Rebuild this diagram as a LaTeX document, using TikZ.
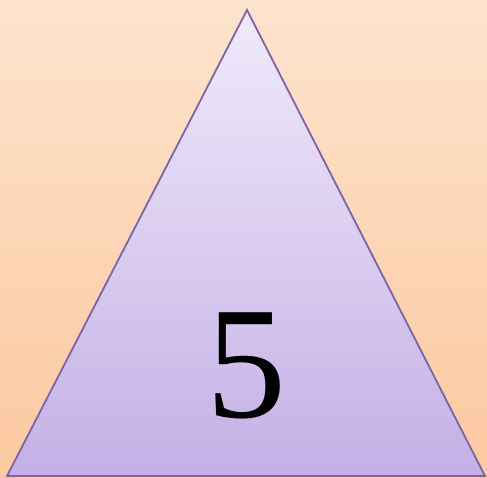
\documentclass[tikz,border=0pt]{standalone}
\usepackage{fontspec}
\setmainfont{Liberation Serif}
\definecolor{bgtop}{HTML}{FDE4CD}
\definecolor{bgbot}{HTML}{FCC8A0}
\definecolor{tritop}{HTML}{F0EAFB}
\definecolor{tribot}{HTML}{C4B0E5}
\definecolor{triedge}{HTML}{7F63A8}
\tikzset{tri/.style={draw=triedge,line width=1.8pt,line join=miter,top color=tritop,bottom color=tribot}}
\begin{document}
\begin{tikzpicture}[x=1pt,y=1pt]
\path[top color=bgtop,bottom color=bgbot] (0,0) rectangle (487,478);
\useasboundingbox (0,0) rectangle (487,478);
\coordinate (apex) at (247,468);
\coordinate (bl) at (7,2);
\coordinate (br) at (485,2);
\path[tri] (apex) -- (br) -- (bl) -- cycle;
\node[anchor=base,inner sep=0pt] (num) at (246,60) {\fontsize{160}{160}\selectfont 5};
\end{tikzpicture}
\end{document}
